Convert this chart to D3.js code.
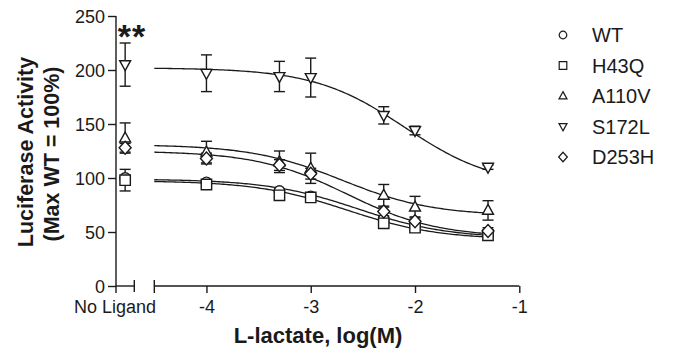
<!DOCTYPE html>
<html><head><meta charset="utf-8">
<script src="https://cdn.jsdelivr.net/npm/d3@7"></script>
<style>body{margin:0;background:#fff}svg{display:block}text{font-family:"Liberation Sans",Arial,sans-serif;fill:#1a1a1a}</style>
</head><body><svg id="c" width="673" height="349"></svg>
<script>
const series = ["WT","H43Q","A110V","S172L","D253H"];
const shapes = ["circle","square","triUp","triDown","diamond"];
const logConc = [-4, -3.3, -3, -2.3, -2, -1.3];
const noLigand = [100, 98, 137, 205, 128];
const noLigandErr = [2, 10, 14, 20, 4];
const values = [
  [96, 88, 83, 62, 56, 48],
  [94, 84, 82, 58, 54, 47],
  [124, 115, 109, 84, 73, 70],
  [197, 194, 193, 158, 144, 110],
  [118, 112, 104, 69, 60, 51]
];
const errors = [
  [2, 2, 2, 2, 2, 2],
  [2, 2, 2, 2, 2, 2],
  [10, 10, 14, 10, 10, 9],
  [17, 14, 18, 8, 4, 2],
  [5, 5, 5, 4, 4, 3]
];
// fitted sigmoid parameters
const fitTop = [99, 97.5, 131, 202, 125];
const fitBottom = [44, 43, 65, 92, 45];
const fitLogEC50 = [-2.55, -2.65, -2.7, -2.1, -2.65];
const fitHill = [1, 1, 1, 1, 1];
const yTicks = [0, 50, 100, 150, 200, 250];
const xTicks = [-4, -3, -2, -1];

const svg = d3.select("#c");
const ink = "#1a1a1a";
const x = d3.scaleLinear().domain([-4.5, -1]).range([154.3, 519.3]);
const y = d3.scaleLinear().domain([0, 250]).range([286, 16]);
const xNL = d3.scaleLinear().domain([0, 1]).range([116, 134.3]);

function markerPath(shape, s) {
  const p = d3.path();
  if (shape === "circle") { p.moveTo(s, 0); p.arc(0, 0, s, 0, 2 * Math.PI); }
  else if (shape === "square") { p.rect(-s, -s, 2 * s, 2 * s); }
  else if (shape === "triUp") { p.moveTo(0, -s * 1.15); p.lineTo(s * 1.05, s * 0.75); p.lineTo(-s * 1.05, s * 0.75); p.closePath(); }
  else if (shape === "triDown") { p.moveTo(0, s * 1.15); p.lineTo(s * 1.05, -s * 0.75); p.lineTo(-s * 1.05, -s * 0.75); p.closePath(); }
  else if (shape === "diamond") { p.moveTo(0, -s * 1.25); p.lineTo(s * 1.15, 0); p.lineTo(0, s * 1.25); p.lineTo(-s * 1.15, 0); p.closePath(); }
  return p.toString();
}

// axes
const yAxis = d3.axisLeft(y).tickValues(yTicks).tickSize(8).tickPadding(3);
const gy = svg.append("g").attr("transform", "translate(116,0)").call(yAxis);
gy.select(".domain").attr("d", "M0,16V293");
const xAxis = d3.axisBottom(x).tickValues(xTicks).tickSize(7).tickPadding(7).tickFormat(d => String(d));
const gx = svg.append("g").attr("transform", "translate(0,286)").call(xAxis);
gx.select(".domain").attr("d", `M${x(-4.5)},0H${x(-1)}`);
[gy, gx].forEach(g => {
  g.selectAll("path,line").attr("stroke", ink).attr("stroke-width", 1.4);
  g.selectAll("text").attr("font-size", 18).attr("fill", ink).style("font-family", '"Liberation Sans",Arial,sans-serif');
});
gy.selectAll("text").attr("dy", "0.34em");
// segment end caps
svg.append("line").attr("x1", x(-4.5)).attr("x2", x(-4.5)).attr("y1", 280).attr("y2", 293).attr("stroke", ink).attr("stroke-width", 1.4);
svg.append("line").attr("x1", xNL(0)).attr("x2", xNL(1)).attr("y1", 286).attr("y2", 286).attr("stroke", ink).attr("stroke-width", 1.4);
svg.append("line").attr("x1", xNL(1)).attr("x2", xNL(1)).attr("y1", 280).attr("y2", 292).attr("stroke", ink).attr("stroke-width", 1.4);
svg.append("text").attr("x", 115).attr("y", 313).attr("text-anchor", "middle").attr("font-size", 18).text("No Ligand");

// titles
svg.append("text").attr("x", 318).attr("y", 343).attr("text-anchor", "middle").attr("font-size", 22).attr("font-weight", "bold").text("L-lactate, log(M)");
const yl = svg.append("g").attr("transform", "translate(33,152) rotate(-90)");
yl.append("text").attr("text-anchor", "middle").attr("font-size", 21.5).attr("font-weight", "bold").text("Luciferase Activity");
yl.append("text").attr("y", 26).attr("x", -2).attr("text-anchor", "middle").attr("font-size", 21.5).attr("font-weight", "bold").text("(Max WT = 100%)");
svg.append("text").attr("x", 132).attr("y", 48).attr("text-anchor", "middle").attr("font-size", 34).attr("font-weight", "bold").attr("letter-spacing", 1).text("**");

// curves
const line = d3.line().x(d => x(d[0])).y(d => y(d[1])).curve(d3.curveLinear);
const xs = d3.range(-4.5, -1.3 + 1e-9, 0.02);
series.forEach((s, i) => {
  const f = v => fitBottom[i] + (fitTop[i] - fitBottom[i]) / (1 + Math.pow(10, (v - fitLogEC50[i]) * fitHill[i]));
  svg.append("path").attr("d", line(xs.map(v => [v, f(v)]))).attr("fill", "none").attr("stroke", ink).attr("stroke-width", 1.3);
});

// error bars and markers
const cap = 5.5;
function errBar(cx, v, e) {
  const g = svg.append("g").attr("stroke", ink).attr("stroke-width", 1.4);
  g.append("line").attr("x1", cx).attr("x2", cx).attr("y1", y(v + e)).attr("y2", y(v - e));
  g.append("line").attr("x1", cx - cap).attr("x2", cx + cap).attr("y1", y(v + e)).attr("y2", y(v + e));
  g.append("line").attr("x1", cx - cap).attr("x2", cx + cap).attr("y1", y(v - e)).attr("y2", y(v - e));
}
series.forEach((s, i) => {
  logConc.forEach((c, j) => errBar(x(c), values[i][j], errors[i][j]));
  errBar(xNL(0.5), noLigand[i], noLigandErr[i]);
});
series.forEach((s, i) => {
  const pts = logConc.map((c, j) => [x(c), y(values[i][j])]).concat([[xNL(0.5), y(noLigand[i])]]);
  svg.selectAll(null).data(pts).enter().append("path")
    .attr("d", markerPath(shapes[i], 5.2))
    .attr("transform", d => `translate(${d[0]},${d[1]})`)
    .attr("fill", "#fff").attr("stroke", ink).attr("stroke-width", 1.4);
});

// legend
const lg = svg.append("g");
series.forEach((s, i) => {
  const ly = 35 + i * 30.5;
  lg.append("path").attr("d", markerPath(shapes[i], 3.8)).attr("transform", `translate(563,${ly})`)
    .attr("fill", "#fff").attr("stroke", ink).attr("stroke-width", 1.2);
  lg.append("text").attr("x", 592).attr("y", ly + 7).attr("font-size", 20).text(s);
});
</script></body></html>
